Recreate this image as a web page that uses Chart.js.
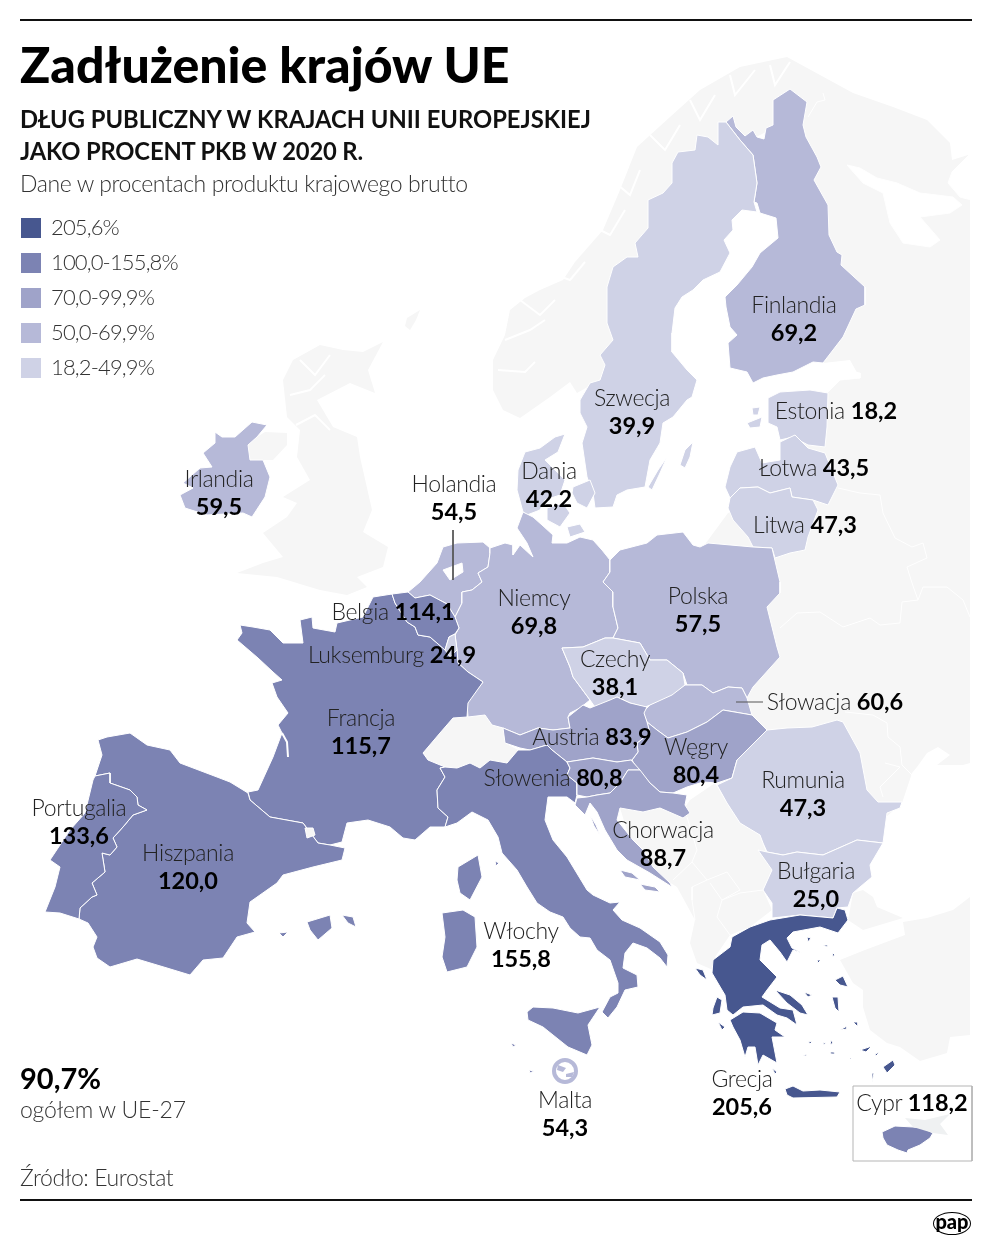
<!DOCTYPE html>
<html lang="pl"><head><meta charset="utf-8"><title>Zadłużenie krajów UE</title>
<script src="https://cdn.jsdelivr.net/npm/chart.js@4"></script>
<style>
html,body{margin:0;padding:0;background:#fff}
#page{position:relative;width:992px;height:1250px;overflow:hidden;font-family:Lato,"Noto Sans",sans-serif;color:#111}
canvas{position:absolute;left:0;top:0}
.t{position:absolute;white-space:nowrap;line-height:1}
.rule{position:absolute;left:20px;width:952px;height:2px;background:#111}
.lab{position:absolute;white-space:nowrap;text-align:center;transform:translate(-50%,-50%);font-size:23px;line-height:27.5px;color:#222;font-weight:300;letter-spacing:-.35px}
.lab b{font-weight:700;color:#000;font-size:23.5px;letter-spacing:0}
.sw{position:absolute;left:21px;width:20px;height:20px}
</style></head><body><div id="page"><canvas id="c" width="992" height="1250"></canvas></div>
<script>
/* ---------- values ---------- */
const countryNames = ["Finlandia","Szwecja","Estonia","Łotwa","Litwa","Irlandia","Dania","Holandia","Niemcy","Polska","Belgia","Luksemburg","Czechy","Słowacja","Austria","Węgry","Słowenia","Francja","Rumunia","Portugalia","Hiszpania","Chorwacja","Bułgaria","Włochy","Malta","Grecja","Cypr"];
const debtValues  = [69.2,39.9,18.2,43.5,47.3,59.5,42.2,54.5,69.8,57.5,114.1,24.9,38.1,60.6,83.9,80.4,80.8,115.7,47.3,133.6,120.0,88.7,25.0,155.8,54.3,205.6,118.2];
const labelInline = [0,0,1,1,1,0,0,0,0,0,1,1,0,1,1,0,1,0,0,0,0,0,0,0,0,0,1];
const labelCentreX= [794,632,836,814,805,219,549,454,534,698,393,392,615,835,592,696,553,361,803,79,188,663,816,521,565,742,912];
const labelCentreY= [318,411,411,468,525,492,484,497,611,609,612,655,672,702,737,760,778,731,793,821,866,843,884,944,1113,1092,1103];
const legendLabels = ["205,6%","100,0-155,8%","70,0-99,9%","50,0-69,9%","18,2-49,9%"];
const legendFloors = [200,100,70,50,0];
const legendColours= ["#47578f","#7c83b3","#9fa3c9","#b6b9d8","#cfd2e6"];
const otherLandColour = "#f6f6f6";

/* ---------- outlines, in map units (flat x,y lists) ---------- */
const geoNorway=[[577,393,570,382,550,397,520,418,503,410,493,390,493,360,505,335,510,310,525,298,540,290,563,280,575,262,603,230,620,190,637,147,670,117,700,90,740,67,787,57,820,75,853,93,830,110,806,102,790,120,730,150,650,250,600,380]];
const geoEast=[[800,88,853,93,893,107,927,120,950,143,952,160,968,155,970,155,970,763,963,765,937,765,950,755,938,747,927,753,917,767,912,773,902,803,860,840,800,760,745,710,720,640,703,547,728,513,760,500,800,440,825,395,840,380,860,378,850,360,823,363,835,340,850,300,810,200,800,140,795,100]];
const geoWhiteSea=[[847,165,860,168,877,178,897,183,920,193,953,197,962,205,950,213,920,217,940,240,930,247,903,243,890,223,883,193,863,183],[971,153,952,172,948,183,960,197,971,200]];
const geoGulfFinland=[[760,380,815,360,835,368,860,373,860,378,840,380,828,392,780,392,760,395]];
const geoBritain=[[283,380,293,360,320,345,343,350,363,352,383,342,368,370,375,393,350,383,317,400,333,427,357,437,360,457,372,510,363,532,388,547,383,567,357,577,367,587,347,595,320,590,277,577,237,573,263,563,283,557,263,533,287,517,297,503,283,497,310,480,297,457,300,430,287,417],[407,318,420,310,416,320,410,330,405,326],[248,445,257,437,265,432,287,433,287,445,273,460,250,460]];
const geoThrace=[[853,893,863,890,873,897,877,907,903,918,863,930,848,920]];
const geoAnatolia=[[970,897,953,910,927,918,903,922,905,935,865,950,840,960,853,983,863,990,863,1007,870,1030,887,1043,900,1047,920,1061,947,1053,950,1037,970,1035]];
const geoBalkans=[[620,808,683,810,690,800,715,783,727,803,740,823,760,835,772,870,763,890,772,910,750,927,730,935,715,957,713,970,697,963,690,943,695,920,677,887,650,870,630,840]];
const geoSwiss=[[423,753,440,733,453,718,485,715,492,725,503,728,505,743,518,750,507,763,490,760,480,768,470,763,457,768,445,767,428,760]];
const geoAndorra=[[305,828,313,828,315,835,307,838]];
const geoCyprusNorth=[[905,1118,925,1120,950,1114,940,1124,948,1135,933,1133,913,1127]];
const geoFinland=[[726,122,733,116,736,127,745,136,753,130,757,137,764,139,766,128,773,125,773,100,790,89,807,102,803,125,806,137,817,157,821,167,814,180,828,205,829,235,837,252,842,255,841,265,865,287,865,305,856,309,843,337,823,363,813,362,793,372,777,375,763,378,753,383,747,372,730,368,728,343,737,335,730,327,726,307,725,297,737,285,752,267,760,253,778,238,776,218,760,213,757,203,754,202,757,183,753,155,740,140]];
const geoSweden=[[718,122,726,122,740,140,753,155,757,183,754,202,757,212,742,210,732,220,733,230,724,240,730,253,720,272,703,280,693,290,682,297,675,308,672,333,672,352,687,370,697,380,692,397,687,400,673,417,663,423,660,443,650,460,645,487,627,490,617,495,613,507,595,508,593,493,587,477,582,443,587,427,580,413,580,400,590,383,600,380,605,365,600,355,613,340,607,323,607,287,613,267,627,257,638,257,635,243,648,228,648,200,663,193,672,183,672,163,678,152,695,150,697,135,708,137,718,145],[693,442,685,450,680,465,685,468,690,457],[667,457,658,470,648,487,652,490,660,473]];
const geoEstonia=[[768,398,780,392,810,390,828,393,827,427,825,447,808,445,793,437,780,440,777,427,768,423],[747,423,762,417,760,427,750,428],[752,408,760,407,758,415,753,415]];
const geoLatvia=[[725,487,730,467,737,452,755,447,762,463,780,460,780,442,795,435,808,448,825,453,838,485,828,505,813,500,792,497,790,488,770,493,758,487,740,488,730,498]];
const geoLithuania=[[730,498,740,488,758,487,770,493,790,488,792,497,813,500,818,510,808,537,805,550,790,553,775,558,772,548,753,547,748,537,733,520,728,508]];
const geoDenmark=[[523,512,517,490,518,470,525,452,540,448,555,437,565,434,558,452,545,460,555,470,565,480,560,495,545,500,540,510,527,515],[573,487,590,480,595,493,587,508,577,503,572,493],[547,508,563,503,570,513,560,527,547,520],[567,527,580,524,585,532,570,537]];
const geoGermany=[[490,553,490,548,505,543,513,545,513,555,520,545,533,557,527,543,517,528,523,512,533,517,542,525,553,535,552,543,567,543,580,537,593,540,602,550,610,560,610,572,603,582,613,592,613,607,618,628,613,638,605,638,583,647,562,648,570,667,573,677,590,700,580,708,570,713,568,717,570,728,553,730,538,728,520,735,503,728,492,725,485,715,468,717,467,703,483,682,468,672,458,663,457,650,455,635,459,628,455,617,462,603,462,592,472,590,482,582,478,573,488,567]];
const geoPoland=[[610,560,620,550,647,543,657,535,683,532,693,545,700,547,708,543,753,547,772,548,780,582,780,593,767,607,777,647,780,657,753,687,747,698,742,688,728,687,713,693,702,685,687,685,683,673,667,660,650,660,640,643,613,638,618,628,613,607,613,592,603,582,610,572]];
const geoCzechia=[[562,648,583,647,605,638,613,638,640,643,650,660,667,660,683,673,685,685,672,697,645,707,630,703,617,697,597,710,590,700,573,677,570,667]];
const geoSlovakia=[[643,712,650,705,672,695,685,685,702,685,713,693,728,687,742,688,747,698,752,715,723,710,707,722,687,732,668,738,657,730,647,722]];
const geoHungary=[[647,722,657,730,668,738,687,732,707,722,723,710,752,715,767,730,745,752,737,760,732,778,717,783,703,782,687,787,673,793,660,792,650,783,638,770,632,760,638,752,637,743,650,733]];
const geoAustria=[[568,717,583,705,590,708,610,700,617,697,630,703,647,707,644,713,647,722,650,733,637,743,638,752,632,760,617,762,593,758,567,762,552,750,547,745,530,750,520,748,505,743,503,728,520,735,538,728,553,730,570,728]];
const geoSlovenia=[[567,762,593,758,617,762,631,760,640,770,628,770,620,783,610,793,597,795,587,797,577,795,577,783,567,775,570,768]];
const geoCroatia=[[628,770,640,770,650,783,660,792,673,793,687,795,685,805,690,813,683,818,660,808,643,812,620,808,617,820,633,840,643,850,653,867,670,883,672,887,650,873,627,860,617,850,605,830,597,812,590,803,585,815,575,805,577,798,587,797,597,795,610,793,620,783],[620,870,632,873,640,880,625,877],[640,884,655,887,660,892,645,890],[590,815,596,825,600,835,594,826]];
const geoRomania=[[717,785,732,778,737,760,745,752,767,730,787,728,812,727,837,720,843,722,860,753,867,790,878,802,902,802,900,808,887,813,883,843,857,840,823,855,797,852,783,855,767,852,763,843,760,835,740,823,727,803]];
const geoBulgaria=[[758,850,767,852,783,855,797,852,823,855,857,840,883,843,870,865,872,877,860,887,853,893,848,907,837,908,833,918,800,915,772,918,772,903,763,890,772,870]];
const geoFrance=[[240,625,253,627,270,630,283,643,303,643,300,620,312,617,313,628,335,632,337,623,363,617,373,597,392,594,395,603,407,622,415,627,418,635,430,637,443,648,457,650,458,663,468,672,483,682,468,703,467,717,453,718,440,733,423,753,428,760,445,767,440,768,445,777,437,790,438,808,448,817,445,827,430,827,415,840,403,838,390,827,368,820,347,823,342,842,330,845,318,843,303,823,270,817,250,800,248,792,258,790,273,757,282,733,278,725,288,713,277,697,272,683,282,680,273,672,258,658,237,640,242,633],[458,867,478,855,482,877,470,900,460,893,457,880]];
const geoSpain=[[98,740,107,737,130,733,147,745,170,750,180,763,217,777,230,782,248,793,250,800,270,817,303,823,318,843,330,845,345,848,342,860,313,867,283,875,277,883,250,902,247,923,255,932,237,937,223,958,203,960,190,975,167,968,137,959,110,967,97,958,93,947,97,937,88,923,79,919,80,908,92,897,97,895,92,883,105,872,102,853,110,855,117,847,113,838,123,827,133,815,147,810,138,805,137,797,130,790,110,783,110,773,95,776,102,755],[307,922,330,915,332,928,318,940,310,930],[342,915,353,917,356,927,348,923],[279,933,288,932,283,937]];
const geoPortugal=[[95,776,110,773,110,783,130,790,137,797,138,805,147,810,133,815,123,827,113,838,117,847,110,855,102,853,105,872,92,883,97,895,92,897,80,908,79,919,60,913,45,912,55,887,60,867,50,860,70,830,85,813,93,780]];
const geoIreland=[[215,432,222,437,235,437,252,422,267,425,257,437,248,445,250,460,263,460,270,477,265,497,252,517,243,513,207,515,185,508,180,495,193,488,183,483,200,468,212,467,203,453,215,443]];
const geoNetherlands=[[408,592,420,582,437,563,443,547,457,543,483,542,490,548,490,553,488,567,478,573,482,582,472,590,462,592,462,603,455,617,447,604,430,595,415,598]];
const geoIJsselmeer=[[443,570,462,563,463,572,450,580]];
const geoBelgium=[[392,594,408,592,415,598,430,595,447,604,455,617,459,628,455,634,449,637,445,650,430,637,418,635,415,627,407,622,395,603]];
const geoLuxembourg=[[449,637,455,634,457,650,450,657,445,650]];
const geoItaly=[[440,768,445,767,457,768,470,763,480,768,490,760,507,763,518,750,530,750,547,745,552,750,567,762,570,768,567,775,577,783,577,795,575,803,567,797,548,797,545,820,553,840,567,857,587,890,593,895,610,903,620,902,613,910,622,920,640,928,660,942,668,955,667,967,660,958,647,948,633,943,625,953,623,968,637,975,638,987,625,990,617,1007,608,1018,602,1012,610,997,618,993,618,983,610,960,597,950,590,938,580,937,570,928,563,917,550,912,537,903,527,887,517,870,502,853,498,837,488,820,472,812,457,823,445,827,448,817,438,808,437,790,445,777],[527,1012,533,1007,553,1008,578,1013,600,1007,588,1025,592,1045,587,1055,568,1047,543,1027,528,1020],[442,913,463,910,475,917,477,947,467,967,447,972,442,957,445,937],[495,861,499,863,496,866],[511,1043,516,1045,513,1047],[529,1070,534,1071,530,1073]];
const geoMalta=[[558,1065,566,1068,563,1072,557,1070],[566,1074,574,1072,572,1077,566,1077]];
const geoGreece=[[713,960,730,947,732,937,750,927,770,920,800,915,833,918,837,908,845,910,848,920,838,933,820,927,793,932,787,938,792,948,802,953,793,950,787,962,780,952,770,940,762,945,760,960,777,977,767,990,762,997,780,1008,793,1010,797,1025,787,1018,777,1015,763,1005,743,1007,733,1015,727,1010,725,995,722,990,712,973],[730,1020,743,1012,760,1013,777,1023,775,1030,785,1037,772,1037,777,1063,763,1055,758,1065,755,1047,748,1047,745,1057,740,1040,733,1027],[785,1089,793,1086,803,1091,820,1090,840,1092,837,1097,793,1098,787,1095],[775,990,790,995,802,1005,808,1015,800,1013,787,1003],[695,968,703,970,707,980,700,975],[717,997,722,1000,720,1013,712,1015,713,1008],[718,1022,725,1027,722,1030],[835,980,843,976,848,987,840,985],[832,997,838,997,839,1012,835,1008],[883,1067,893,1060,895,1065,887,1073],[840,1030,847,1026,847,1029],[853,1022,858,1022,858,1027],[807,937,811,938,808,942],[823,945,828,945,827,947],[833,953,835,955,832,957],[817,960,821,960,818,963],[804,992,812,995,808,997],[872,1073,874,1073,872,1082],[772,1068,777,1072,775,1074],[860,1050,872,1046,866,1052],[875,1054,880,1052,876,1056],[808,1041,812,1042,810,1044],[823,1043,826,1042,824,1045],[831,1040,833,1043,830,1045],[830,1052,834,1052,835,1054,831,1054],[803,1056,807,1054,806,1056],[850,1058,852,1058,850,1060]];
const geoCyprus=[[882,1132,895,1126,913,1127,923,1128,933,1133,930,1138,920,1145,908,1150,907,1153,898,1150,887,1145,883,1138]];
const geoFjords=[[505,340,530,330,545,320],[498,370,525,372,535,362],[520,300,540,315,555,300],[548,272,570,280,585,262],[590,225,610,235,625,210],[612,180,630,195,640,170],[650,135,665,150,680,125],[690,100,700,120,715,95],[730,75,735,95,755,70],[770,65,775,85,790,62],[300,360,315,375,330,355],[290,395,310,390,325,375],[296,425,315,415,330,430]];
const geoLandBorders=[[838,488,860,493,880,495,883,513,895,538,912,547,923,543,927,558,907,567,912,583,918,600,923,587,947,587,963,600,970,617],[918,600,902,602,900,623,880,625,870,618,843,627,820,612,797,613,780,628],[845,712,873,715,887,723,888,737,900,747,902,765,912,775],[885,763,900,767,880,787,883,797],[823,93,825,100,817,102,808,117],[687,817,697,850,692,862,673,880],[692,862,707,880,692,887,692,900,695,920],[707,880,727,872,740,890,722,900,710,883],[722,900,740,893,763,890],[722,900,717,917,730,935]];
const geoGironde=[282,733,287,742,288,757];
const leaderHolland=[[453,530],[453,580]];
const leaderSlovakia=[[736,702],[763,702]];
const maltaMarker=[[565,1071]];
const insetFrame=[[853,1086],[972,1086],[972,1161],[853,1161],[853,1086]];

/* ---------- draw order ---------- */
const otherLand=[geoNorway,geoEast,geoBritain,geoThrace,geoAnatolia,geoBalkans,geoSwiss];
const sea=[geoWhiteSea,geoGulfFinland];
const members=[["Finlandia",geoFinland],["Szwecja",geoSweden],["Estonia",geoEstonia],["Łotwa",geoLatvia],["Litwa",geoLithuania],["Irlandia",geoIreland],["Dania",geoDenmark],["Holandia",geoNetherlands],["Niemcy",geoGermany],["Polska",geoPoland],["Czechy",geoCzechia],["Słowacja",geoSlovakia],["Węgry",geoHungary],["Austria",geoAustria],["Rumunia",geoRomania],["Bułgaria",geoBulgaria],["Francja",geoFrance],["Włochy",geoItaly],["Słowenia",geoSlovenia],["Chorwacja",geoCroatia],["Hiszpania",geoSpain],["Portugalia",geoPortugal],["Belgia",geoBelgium],["Luksemburg",geoLuxembourg],["Grecja",geoGreece],["Malta",geoMalta],["Cypr",geoCyprus]];

function colourFor(v){return legendColours[legendFloors.findIndex(f=>v>=f)];}
function pairs(r){const o=[];for(let i=0;i<r.length;i+=2)o.push([r[i],r[i+1]]);return o;}
function area(ring,fill,stroke,w){const d=pairs(ring);d.push(d[0]);return {data:d,backgroundColor:fill,borderColor:stroke,borderWidth:w,fill:'shape',pointRadius:0,tension:0,clip:false};}
function stroke(list,colour,w){return {data:pairs(list),borderColor:colour,borderWidth:w,pointRadius:0,fill:false,tension:0,clip:false};}
const paint=[];
otherLand.forEach(g=>g.forEach(r=>paint.push(area(r,otherLandColour,'#ffffff',0))));
sea.forEach(g=>g.forEach(r=>paint.push(area(r,'#ffffff','#ffffff',1))));
geoFjords.forEach(r=>paint.push(stroke(r,'#ffffff',2)));
geoLandBorders.forEach(r=>paint.push(stroke(r,'#ffffff',1)));
members.forEach(([n,g])=>{const c=colourFor(debtValues[countryNames.indexOf(n)]);g.forEach(r=>paint.push(area(r,c,'#ffffff',n==='Malta'?0:1)));});
geoIJsselmeer.forEach(r=>paint.push(area(r,'#ffffff','#ffffff',1)));
paint.push(stroke(geoGironde,'#ffffff',2));
geoAndorra.forEach(r=>paint.push(area(r,otherLandColour,'#ffffff',1)));
geoCyprusNorth.forEach(r=>paint.push(area(r,'#eff1f2','#ffffff',0)));
paint.push({data:insetFrame,borderColor:'#b5b5b5',borderWidth:1,pointRadius:0,fill:false,clip:false});
paint.push({data:leaderHolland,borderColor:'#555',borderWidth:1,pointRadius:0,fill:false});
paint.push({data:leaderSlovakia,borderColor:'#555',borderWidth:1,pointRadius:0,fill:false});
paint.push({data:maltaMarker,showLine:false,pointStyle:'circle',pointRadius:11,pointBorderWidth:4,pointBorderColor:legendColours[3],pointBackgroundColor:'rgba(0,0,0,0)'});

const chart=new Chart(document.getElementById('c'),{
  type:'line',
  data:{datasets:paint.slice().reverse()},
  options:{responsive:false,animation:false,devicePixelRatio:1,
    layout:{padding:0,autoPadding:false},
    plugins:{legend:{display:false},tooltip:{enabled:false},title:{display:false}},
    scales:{x:{type:'linear',display:false,min:0,max:992},y:{type:'linear',display:false,min:0,max:1250,reverse:true}}}
});

/* ---------- text ---------- */
const page=document.getElementById('page');
function text(str,x,y,size,weight,colour,extra){const e=document.createElement('div');e.className='t';e.textContent=str;e.style.cssText=`left:${x}px;top:${y}px;font-size:${size}px;font-weight:${weight};color:${colour};${extra||''}`;page.appendChild(e);return e;}
[19,1199].forEach(y=>{const r=document.createElement('div');r.className='rule';r.style.top=y+'px';page.appendChild(r);});
text("Zadłużenie krajów UE",20,39,50,900,'#000');
text("DŁUG PUBLICZNY W KRAJACH UNII EUROPEJSKIEJ",20,108,23.75,700,'#111');
text("JAKO PROCENT PKB W 2020 R.",20,140,23.75,700,'#111','letter-spacing:-.17px');
text("Dane w procentach produktu krajowego brutto",20,172,23,300,'#333','letter-spacing:-.4px');
legendLabels.forEach((l,i)=>{const s=document.createElement('div');s.className='sw';s.style.top=(218+35*i)+'px';s.style.background=legendColours[i];page.appendChild(s);
  text(l,51,216+35*i,22,300,'#333','letter-spacing:-.85px');});
text("90,7%",20,1063,29,700,'#000');
text("ogółem w UE-27",20,1098,23,300,'#333','letter-spacing:-.2px');
text("Źródło: Eurostat",20,1166,23,300,'#333','letter-spacing:-.4px');
const sx=chart.scales.x,sy=chart.scales.y;
countryNames.forEach((n,i)=>{const e=document.createElement('div');e.className='lab';
  const val=debtValues[i].toFixed(1).replace('.',',');
  e.innerHTML=n+(labelInline[i]?' ':'<br>')+'<b>'+val+'</b>';
  e.style.left=sx.getPixelForValue(labelCentreX[i])+'px';e.style.top=sy.getPixelForValue(labelCentreY[i])+'px';page.appendChild(e);});
const logo=document.createElement('div');logo.className='t';logo.textContent='pap';
logo.style.cssText='left:933px;top:1212px;width:36px;height:21px;border:1.5px solid #000;border-radius:50%;text-align:center;font-size:20px;font-weight:900;line-height:17px;color:#000';
page.appendChild(logo);
</script></body></html>
